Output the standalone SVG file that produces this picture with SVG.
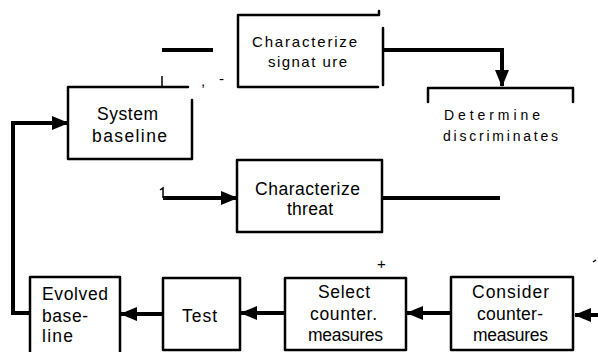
<svg xmlns="http://www.w3.org/2000/svg" width="598" height="352" viewBox="0 0 598 352">
<style>
.box{fill:none;stroke:#000;stroke-width:2.5;stroke-linecap:round;stroke-linejoin:round}
.con{fill:none;stroke:#000;stroke-width:4}
.thin{fill:none;stroke:#000;stroke-width:1.5}
text{font-family:"Liberation Sans",Arial,sans-serif;font-size:17.5px;fill:#000}
.sm{font-size:15px}
.xs{font-size:14px}
</style>
<defs>
<marker id="ah" markerUnits="userSpaceOnUse" markerWidth="18" markerHeight="14" refX="16" refY="7" orient="auto">
<path d="M0,0 L17,7 L0,14 Z" fill="#000"/>
</marker>
</defs>
<rect width="598" height="352" fill="#fff"/>
<g id="connectors">
<path class="con" d="M383,50 H502 V86" marker-end="url(#ah)"/>
<path class="con" d="M30,313 H13 V123 H68" marker-end="url(#ah)"/>
<path class="con" d="M163,198 H237" marker-end="url(#ah)"/>
<path class="con" d="M382,198 H500"/>
<path class="con" d="M598,315 H575" marker-end="url(#ah)"/>
<path class="con" d="M451,313 H407" marker-end="url(#ah)"/>
<path class="con" d="M285,313 H241" marker-end="url(#ah)"/>
<path class="con" d="M163,314 H121" marker-end="url(#ah)"/>
<path class="con" d="M162,50 H213"/>
</g>
<g id="sig">
<path class="box" d="M379,11 V15 H238 V87 H378"/>
<path class="box" d="M383,28 V85"/>
<text x="252" y="47" class="sm" textLength="105" lengthAdjust="spacing">Characterize</text>
<text x="268" y="67" class="sm" textLength="79" lengthAdjust="spacing">signat ure</text>
</g>
<g id="marks">
<path class="thin" d="M162,76 V86"/>
<text x="201" y="86" class="sm">,</text>
<text x="219" y="84" class="sm">-</text>
<text x="377" y="269" class="sm">+</text>
<path class="thin" d="M160,190 L163,188 V198"/>
<path class="thin" d="M593,262 L596,260"/>
</g>
<g id="system">
<path class="box" d="M188,87 H68 V159 H192 V100"/>
<text x="97" y="120" textLength="61" lengthAdjust="spacing">System</text>
<text x="92" y="142" textLength="75" lengthAdjust="spacing">baseline</text>
</g>
<g id="determine">
<path class="box" d="M428,102 V88 H573 V102"/>
<text x="444" y="120" class="xs" textLength="96" lengthAdjust="spacing">Determine</text>
<text x="443" y="141" class="xs" textLength="115" lengthAdjust="spacing">discriminates</text>
</g>
<g id="threat">
<rect class="box" x="237" y="160" width="145" height="72"/>
<text x="255" y="195" textLength="105" lengthAdjust="spacing">Characterize</text>
<text x="287" y="215" textLength="46" lengthAdjust="spacing">threat</text>
</g>
<g id="evolved">
<path class="box" d="M30,352 V277 H120 V352"/>
<text x="42" y="300" textLength="66" lengthAdjust="spacing">Evolved</text>
<text x="42" y="322" textLength="46" lengthAdjust="spacing">base-</text>
<text x="42" y="342" textLength="31" lengthAdjust="spacing">line</text>
</g>
<g id="test">
<rect class="box" x="163" y="278" width="77" height="72"/>
<text x="182" y="322" textLength="35" lengthAdjust="spacing">Test</text>
</g>
<g id="select">
<rect class="box" x="285" y="278" width="121" height="72"/>
<text x="318" y="298" textLength="52" lengthAdjust="spacing">Select</text>
<text x="310" y="320" textLength="67" lengthAdjust="spacing">counter.</text>
<text x="308" y="341" textLength="75" lengthAdjust="spacing">measures</text>
</g>
<g id="consider">
<rect class="box" x="451" y="277" width="122" height="73"/>
<text x="472" y="298" textLength="77" lengthAdjust="spacing">Consider</text>
<text x="477" y="320" textLength="66" lengthAdjust="spacing">counter-</text>
<text x="473" y="341" textLength="75" lengthAdjust="spacing">measures</text>
</g>
</svg>
